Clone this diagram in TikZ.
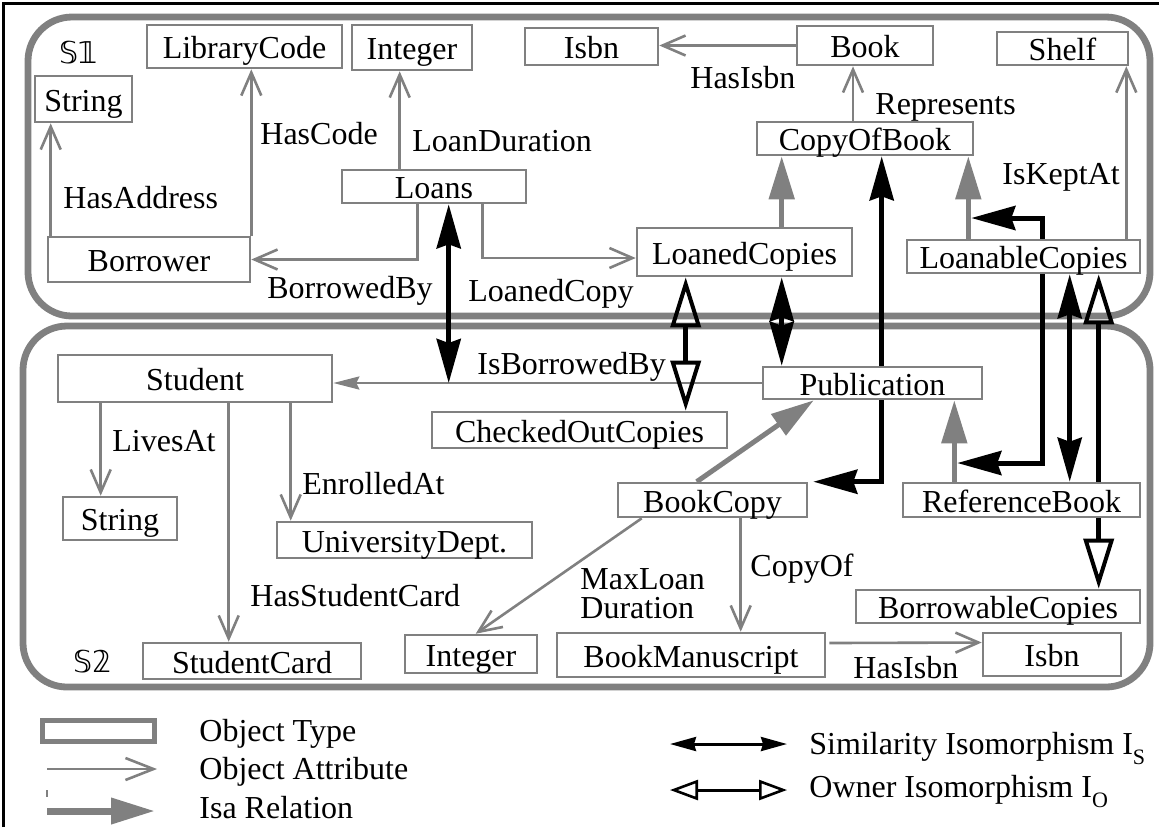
\documentclass[tikz,border=0pt]{standalone}
\usepackage{fontspec}
\setmainfont{Liberation Serif}
\newfontfamily\dsfont{DejaVu Sans}
\usetikzlibrary{arrows.meta,calc}
\pgfdeclarelayer{bg}
\pgfsetlayers{bg,main}
\definecolor{gr}{RGB}{128,128,128}
\newcommand\obox[6]{\node[obj, minimum width={(#4-#2)*0.5pt}, minimum height={(#5-#3)*0.5pt}] (#1) at ({(#2+#4)/2},{(#3+#5)/2}) {#6};}
\newcommand\lsub[1]{\raisebox{-5pt}{\fontsize{11}{12}\selectfont #1}}
\tikzset{
  obj/.style={draw=gr, line width=1.3pt, fill=white, inner sep=0pt, text height=12pt, text depth=0pt, font=\fontsize{16}{19}\selectfont},
  lbl/.style={inner sep=0pt, anchor=base west, font=\fontsize{16}{19}\selectfont},
  region/.style={draw=gr, line width=3.4pt, rounded corners=22pt},
  attr/.style={draw=gr, line width=1.3pt, -{Straight Barb[length=11.5pt,width=10pt]}},
  attrf/.style={draw=gr, line width=1.3pt, -{Stealth[length=13pt,width=6.5pt,inset=1.5pt]}},
  isa/.style={draw=gr, line width=2.5pt, -{Triangle[length=21.5pt,width=12.5pt]}},
  sim/.style={draw=black, line width=2.5pt, {Stealth[length=22pt,width=12pt,inset=2pt]}-{Stealth[length=22pt,width=12pt,inset=2pt]}},
  own/.style={draw=black, line width=2.5pt, {Triangle[open,length=25pt,width=15pt,line width=2pt]}-{Triangle[open,length=25pt,width=15pt,line width=2pt]}},
  legattr/.style={draw=gr, line width=1.3pt, -{Straight Barb[length=14pt,width=11pt]}},
  legisa/.style={draw=gr, line width=3.5pt, -{Triangle[length=22pt,width=12.5pt]}},
  legsim/.style={draw=black, line width=1.5pt, {Stealth[length=13pt,width=7pt,inset=1pt]}-{Stealth[length=13pt,width=7pt,inset=1pt]}},
  legown/.style={draw=black, line width=1.5pt, {Triangle[open,length=14pt,width=10pt,line width=1.3pt]}-{Triangle[open,length=14pt,width=10pt,line width=1.3pt]}},
  legbox/.style={draw=gr, line width=2.5pt, fill=white, inner sep=0pt}
}
\begin{document}
\begin{tikzpicture}[x=0.5pt,y=-0.5pt]
\useasboundingbox (0,0) rectangle (1159,827);
% ---------- S1 boxes
\obox{String1}{35}{76}{132}{122}{String}
\obox{LibraryCode}{147}{25}{342}{68}{LibraryCode}
\obox{Integer1}{352}{25}{472}{70}{Integer}
\obox{Isbn1}{525}{28}{658}{65}{Isbn}
\obox{Book}{797}{26}{933}{65}{Book}
\obox{Shelf}{997}{32}{1128}{65}{Shelf}
\obox{Loans}{342}{170}{526}{203}{Loans}
\obox{Borrower}{48}{237}{250}{282}{Borrower}
\obox{CopyOfBook}{757}{122}{973}{155}{CopyOfBook}
\obox{LoanedCopies}{637}{228}{852}{276}{LoanedCopies}
\obox{LoanableCopies}{907}{240}{1140}{273}{LoanableCopies}
% ---------- S2 boxes
\obox{Student}{58}{355}{332}{402}{Student}
\obox{String2}{63}{497}{177}{540}{String}
\obox{UnivDept}{277}{522}{532}{558}{UniversityDept.}
\obox{StudentCard}{143}{643}{361}{679}{StudentCard}
\obox{Checked}{432}{412}{727}{448}{CheckedOutCopies}
\obox{Publication}{763}{367}{982}{399}{Publication}
\obox{BookCopy}{618}{483}{807}{517}{BookCopy}
\obox{RefBook}{903}{483}{1140}{517}{ReferenceBook}
\obox{Borrowable}{856}{590}{1140}{623}{BorrowableCopies}
\obox{Integer2}{405}{635}{537}{673}{Integer}
\obox{BookMan}{557}{633}{825}{677}{BookManuscript}
\obox{Isbn2}{983}{633}{1121}{676}{Isbn}
% ---------- region labels
\node[font=\dsfont\fontsize{15}{18}\selectfont, inner sep=0pt] (S1lbl) at (79,53) {𝕊𝟙};
\node[font=\dsfont\fontsize{15}{18}\selectfont, inner sep=0pt] (S2lbl) at (93,662) {𝕊𝟚};
% ---------- attribute labels
\node[lbl] (tHasAddress) at (63,208) {HasAddress};
\node[lbl] (tHasCode) at (260,144) {HasCode};
\node[lbl] (tLoanDuration) at (412,151) {LoanDuration};
\node[lbl] (tHasIsbn1) at (690,88) {HasIsbn};
\node[lbl] (tRepresents) at (875,114) {Represents};
\node[lbl] (tIsKeptAt) at (1002,184) {IsKeptAt};
\node[lbl] (tBorrowedBy) at (267,298) {BorrowedBy};
\node[lbl] (tLoanedCopy) at (468,301) {LoanedCopy};
\node[lbl] (tIsBorrowedBy) at (477,374) {IsBorrowedBy};
\node[lbl] (tLivesAt) at (112,451) {LivesAt};
\node[lbl] (tEnrolledAt) at (302,494) {EnrolledAt};
\node[lbl] (tHasStudentCard) at (250,606) {HasStudentCard};
\node[lbl] (tMaxLoan) at (580,589) {MaxLoan};
\node[lbl] (tDuration) at (580,618) {Duration};
\node[lbl] (tCopyOf) at (750,576) {CopyOf};
\node[lbl] (tHasIsbn2) at (853,678) {HasIsbn};
% ---------- legend
\node[legbox, minimum width=56pt, minimum height=10.5pt] (legObj) at (98.5,730.5) {};
\node[lbl] (tObj) at (199,741) {Object Type};
\node[lbl] (tAttr) at (199,779) {Object Attribute};
\node[lbl] (tIsa) at (199,818) {Isa Relation};
\node[lbl] (tSim) at (809,754) {Similarity Isomorphism I\lsub{S}};
\node[lbl] (tOwn) at (809,797) {Owner Isomorphism I\lsub{O}};
\coordinate (la1) at (47,769); \coordinate (la2) at (157,769);
\coordinate (li1) at (47,811); \coordinate (li2) at (155,811);
\coordinate (lt1) at (47,790); \coordinate (lt2) at (47,797);
\coordinate (ls1) at (670,744); \coordinate (ls2) at (787,744);
\coordinate (lo1) at (670,790); \coordinate (lo2) at (787,790);
\draw[legattr] (la1) -- (la2);
\draw[legisa] (li1) -- (li2);
\draw[gr, line width=1pt] (lt1) -- (lt2);
\draw[legsim] (ls1) -- (ls2);
\draw[legown] (lo1) -- (lo2);
% ---------- frame
\coordinate (f1) at (3.5,827); \coordinate (f2) at (3.5,3.5); \coordinate (f3) at (1159,3.5);
\draw[black, line width=1.25pt] (f1) -- (f2) -- (f3);
\begin{pgfonlayer}{bg}
% regions
\coordinate (r1a) at (28,17); \coordinate (r1b) at (1150,316);
\coordinate (r2a) at (23,326); \coordinate (r2b) at (1150,687);
\draw[region] (r1a) rectangle (r1b);
\draw[region] (r2a) rectangle (r2b);
% S1 attributes
\coordinate (a1) at ([xshift=2pt]Borrower.north west);
\draw[attr] (a1) -- (a1 |- String1.south);
\draw[attr] (Borrower.north east) -- (Borrower.north east |- LibraryCode.south);
\coordinate (a3) at ([xshift=29.5pt]Loans.north west);
\draw[attr] (a3) -- (a3 |- Integer1.south);
\coordinate (a4) at ([xshift=38.5pt]Loans.south west);
\draw[attr] (a4) |- (Borrower.east);
\coordinate (a5) at ([xshift=71pt]Loans.south west);
\draw[attr] (a5) |- ([yshift=-3pt]LoanedCopies.west);
\draw[attr] (Book.west) -- (Book.west -| Isbn1.east);
\coordinate (a7) at ([xshift=-6pt]Book.south);
\draw[attr] (a7 |- CopyOfBook.north) -- (a7);
\coordinate (a8) at ([xshift=-1.5pt]Shelf.south east);
\draw[attr] (a8 |- LoanableCopies.north) -- (a8);
% isa
\coordinate (i1) at ([xshift=13pt]CopyOfBook.south west);
\draw[isa] (i1 |- LoanedCopies.north) -- (i1);
\coordinate (i2) at ([xshift=-3pt]CopyOfBook.south east);
\draw[isa] (i2 |- LoanableCopies.north) -- (i2);
\coordinate (isaA) at ($(i2 |- 0,218)+(3,0)$);
\coordinate (i3) at ([xshift=40pt]BookCopy.north west);
\coordinate (i4) at ([xshift=26pt]Publication.south west);
\draw[isa] (i3) -- (i4);
\coordinate (i5) at ([xshift=-14.5pt]Publication.south east);
\draw[isa] (i5 |- RefBook.north) -- (i5);
\coordinate (isaB) at ($(i5 |- 0,463)+(3,0)$);
% S2 attributes
\draw[attrf] (Publication.west) -- (Publication.west -| Student.east);
\coordinate (b1) at ([xshift=22pt]Student.south west);
\draw[attr] (b1) -- (b1 |- String2.north);
\coordinate (b2) at ([xshift=86pt]Student.south west);
\draw[attr] (b2) -- (b2 |- StudentCard.north);
\coordinate (b3) at ([xshift=117pt]Student.south west);
\draw[attr] (b3) -- (b3 |- UnivDept.north);
\draw[attr] ([xshift=12.5pt]BookCopy.south west) -- ([xshift=36pt]Integer2.north west);
\coordinate (b5) at ([xshift=62pt]BookCopy.south west);
\draw[attr] (b5) -- (b5 |- BookMan.north);
\draw[attr] ([xshift=1.5pt,yshift=6pt]BookMan.east) -- ([yshift=6pt]Isbn2.west);
% isomorphisms
\coordinate (s1) at ([xshift=54pt]Loans.south west);
\draw[sim] (s1) -- (s1 |- Publication.west);
\coordinate (o1) at ([xshift=25pt]LoanedCopies.south west);
\draw[own] (o1) -- (o1 |- Checked.north);
\draw[sim] (i1 |- LoanedCopies.south) -- (i1 |- Publication.north);
\coordinate (c1) at ([xshift=63pt]CopyOfBook.south west);
\draw[sim] (c1) |- ([xshift=2.5pt]BookCopy.north east);
\coordinate (ex) at ([xshift=68.5pt]LoanableCopies.south west);
\draw[sim] (isaA) -| (ex) |- (isaB);
\coordinate (l1) at ([xshift=82pt]LoanableCopies.south west);
\draw[sim] (l1) -- (l1 |- RefBook.north);
\coordinate (l2) at ([xshift=96.5pt]LoanableCopies.south west);
\draw[own] (l2) -- (l2 |- Borrowable.north);
\end{pgfonlayer}
\end{tikzpicture}
\end{document}
